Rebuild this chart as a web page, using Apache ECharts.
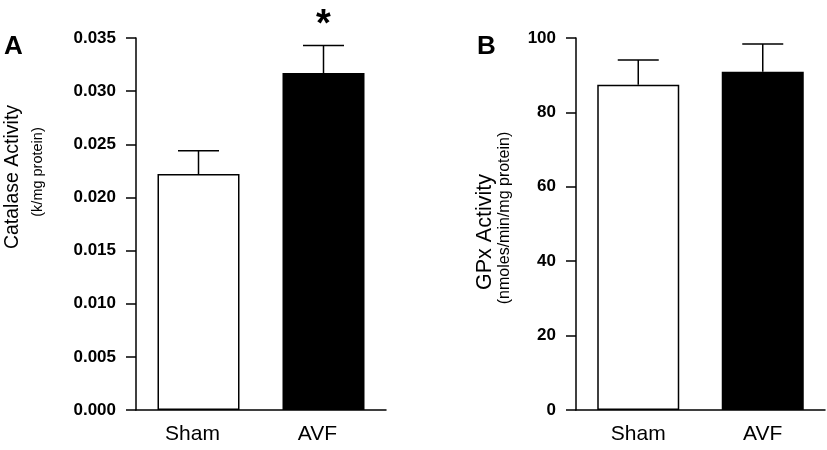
<!DOCTYPE html>
<html>
<head>
<meta charset="utf-8">
<script src="https://cdn.jsdelivr.net/npm/echarts@6/dist/echarts.min.js"></script>
<style>html,body{margin:0;padding:0;background:#fff}#c{width:827px;height:450px}</style>
</head>
<body>
<div id="c"></div>
<script>
const categories = ['Sham', 'AVF'];
const catalaseMean = [0.0222, 0.0317];
const catalaseErr = [0.0022, 0.0026];
const catalaseSig = ['', '*'];
const gpxMean = [87.4, 90.9];
const gpxErr = [6.7, 7.5];
const gpxSig = ['', ''];
const catalaseTicks = { min: 0, max: 0.035, interval: 0.005 };
const gpxTicks = { min: 0, max: 100, interval: 20 };
const barColors = ['#ffffff', '#000000'];

const FONT = 'Liberation Sans, Arial, Helvetica, sans-serif';
const chart = echarts.init(document.getElementById('c'), null, { renderer: 'canvas' });

function barData(vals) {
  return vals.map((v, i) => ({
    value: v,
    itemStyle: { color: barColors[i], borderColor: '#000', borderWidth: 1.5 }
  }));
}
function errData(means, errs, sig) {
  return means.map((m, i) => [i, m, m + errs[i], sig[i]]);
}
function errRender(params, api) {
  const x = api.value(0);
  const lo = api.coord([x, api.value(1)]);
  const hi = api.coord([x, api.value(2)]);
  const capHalf = 20.5;
  const children = [
    { type: 'line', shape: { x1: lo[0], y1: lo[1], x2: hi[0], y2: hi[1] }, style: { stroke: '#000', lineWidth: 1.5 } },
    { type: 'line', shape: { x1: hi[0] - capHalf, y1: hi[1], x2: hi[0] + capHalf, y2: hi[1] }, style: { stroke: '#000', lineWidth: 1.5 } }
  ];
  const s = api.value(3);
  if (s) {
    children.push({ type: 'text', style: { text: s, x: hi[0], y: hi[1] - 20, align: 'center', verticalAlign: 'middle', font: 'bold 38px ' + FONT, fill: '#000' } });
  }
  return { type: 'group', children };
}

const axisLineStyle = { show: true, lineStyle: { color: '#000', width: 1.5 } };
function yAxis(idx, ticks, fmt) {
  return {
    gridIndex: idx, type: 'value', min: ticks.min, max: ticks.max, interval: ticks.interval,
    axisLine: axisLineStyle,
    axisTick: { show: true, length: 10, lineStyle: { color: '#000', width: 1.5 } },
    axisLabel: { color: '#000', fontFamily: FONT, fontWeight: 'bold', fontSize: 17, margin: 20, formatter: fmt },
    splitLine: { show: false }
  };
}
function xAxis(idx, pad) {
  return {
    gridIndex: idx, type: 'category', data: categories,
    axisLine: axisLineStyle, axisTick: { show: false },
    axisLabel: { color: '#000', fontFamily: FONT, fontSize: 21, margin: 14, padding: pad }
  };
}

chart.setOption({
  animation: false,
  grid: [
    { left: 136, top: 38, width: 250, height: 372 },
    { left: 576, top: 38, width: 249, height: 372 }
  ],
  xAxis: [xAxis(0, [0, 12, 0, 0]), xAxis(1, [0, 0, 0, 0])],
  yAxis: [
    yAxis(0, catalaseTicks, v => v.toFixed(3)),
    yAxis(1, gpxTicks, v => String(v))
  ],
  series: [
    { type: 'bar', xAxisIndex: 0, yAxisIndex: 0, data: barData(catalaseMean), barWidth: 82, silent: true },
    { type: 'custom', xAxisIndex: 0, yAxisIndex: 0, data: errData(catalaseMean, catalaseErr, catalaseSig), renderItem: errRender, z: 3 },
    { type: 'bar', xAxisIndex: 1, yAxisIndex: 1, data: barData(gpxMean), barWidth: 82, silent: true },
    { type: 'custom', xAxisIndex: 1, yAxisIndex: 1, data: errData(gpxMean, gpxErr, gpxSig), renderItem: errRender, z: 3 }
  ],
  graphic: [
    { type: 'text', left: 4, top: 34, style: { text: 'A', font: 'bold 26px ' + FONT, fill: '#000' } },
    { type: 'text', left: 477, top: 34, style: { text: 'B', font: 'bold 26px ' + FONT, fill: '#000' } },
    { type: 'text', x: 13, y: 177, rotation: Math.PI / 2, style: { text: 'Catalase Activity', font: '19.5px ' + FONT, fill: '#000', align: 'center', verticalAlign: 'middle' } },
    { type: 'text', x: 38, y: 172, rotation: Math.PI / 2, style: { text: '(k/mg protein)', font: '14.5px ' + FONT, fill: '#000', align: 'center', verticalAlign: 'middle' } },
    { type: 'text', x: 485, y: 232, rotation: Math.PI / 2, style: { text: 'GPx Activity', font: '21.5px ' + FONT, fill: '#000', align: 'center', verticalAlign: 'middle' } },
    { type: 'text', x: 505, y: 218, rotation: Math.PI / 2, style: { text: '(nmoles/min/mg protein)', font: '16px ' + FONT, fill: '#000', align: 'center', verticalAlign: 'middle' } }
  ]
});
</script>
</body>
</html>
